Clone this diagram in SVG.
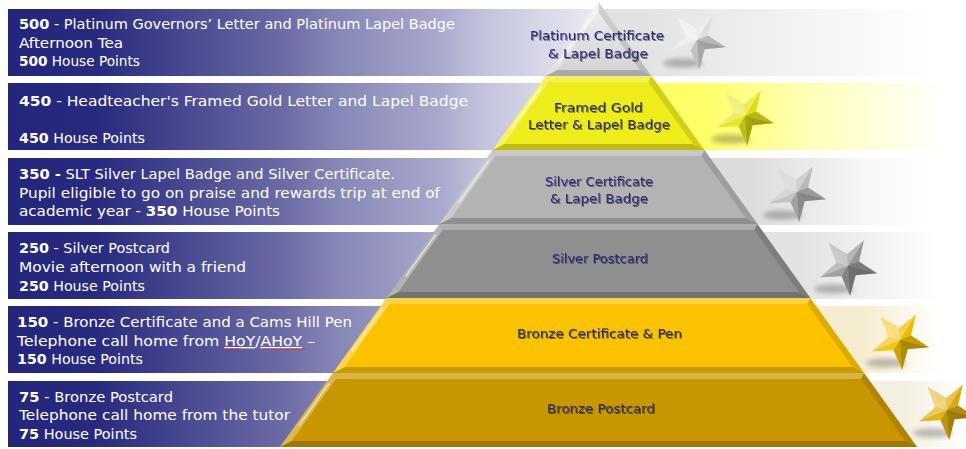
<svg xmlns="http://www.w3.org/2000/svg" xmlns:xlink="http://www.w3.org/1999/xlink" width="966" height="449" viewBox="0 0 966 449">
  <style>
    .bt { font-family: "DejaVu Sans", "Liberation Sans", sans-serif; font-size: 13.5px; fill: #ffffff; }
    .num { font-weight: bold; }
    .tl { font-family: "DejaVu Sans", "Liberation Sans", sans-serif; font-size: 12.5px; fill: #2b2a7a; text-anchor: middle; filter: url(#txtShadow); }
    .bv-top { fill: #ffffff; opacity: 0.28; }
    .bv-left { fill: #ffffff; opacity: 0.32; }
    .bv-right { fill: #000000; opacity: 0.12; }
    .bv-bot { fill: #000000; opacity: 0.2; }
    .gloss { stroke: #ffffff; stroke-opacity: 0.55; stroke-width: 1.6; stroke-linecap: round; fill: none; }
    .shadow { fill: #000000; opacity: 0.25; filter: url(#softBlur); }
  </style>
  <defs>
    <linearGradient id="blueBand" gradientUnits="userSpaceOnUse" x1="8" y1="0" x2="600" y2="0">
      <stop offset="0" stop-color="#24267c"/>
      <stop offset="0.15" stop-color="#282a7e"/>
      <stop offset="0.46" stop-color="#6a6aa4"/>
      <stop offset="0.55" stop-color="#8585b6"/>
      <stop offset="0.73" stop-color="#a9a9cd"/>
      <stop offset="0.8" stop-color="#c2c2dd"/>
      <stop offset="1" stop-color="#ececf2"/>
    </linearGradient>
    <linearGradient id="band1" gradientUnits="userSpaceOnUse" x1="640" y1="0" x2="935" y2="0">
      <stop offset="0" stop-color="#e2e2e2"/>
      <stop offset="0.5" stop-color="#f2f2f2"/>
      <stop offset="1" stop-color="#ffffff"/>
    </linearGradient>
    <linearGradient id="band2" gradientUnits="userSpaceOnUse" x1="700" y1="0" x2="945" y2="0">
      <stop offset="0" stop-color="#ffff66"/>
      <stop offset="0.5" stop-color="#ffffc0"/>
      <stop offset="1" stop-color="#ffffff"/>
    </linearGradient>
    <linearGradient id="band3" gradientUnits="userSpaceOnUse" x1="750" y1="0" x2="935" y2="0">
      <stop offset="0" stop-color="#dcdcdc"/>
      <stop offset="0.6" stop-color="#f6f6f6"/>
      <stop offset="1" stop-color="#ffffff"/>
    </linearGradient>
    <linearGradient id="band4" gradientUnits="userSpaceOnUse" x1="800" y1="0" x2="940" y2="0">
      <stop offset="0" stop-color="#e2e2e2"/>
      <stop offset="1" stop-color="#ffffff"/>
    </linearGradient>
    <linearGradient id="band5" gradientUnits="userSpaceOnUse" x1="860" y1="0" x2="940" y2="0">
      <stop offset="0" stop-color="#f6ecd0"/>
      <stop offset="1" stop-color="#ffffff"/>
    </linearGradient>
    <linearGradient id="band6" gradientUnits="userSpaceOnUse" x1="905" y1="0" x2="966" y2="0">
      <stop offset="0" stop-color="#f4efe0"/>
      <stop offset="1" stop-color="#ffffff"/>
    </linearGradient>
    <linearGradient id="platFill" x1="0" y1="0" x2="0" y2="1">
      <stop offset="0" stop-color="#f0f0f0"/>
      <stop offset="1" stop-color="#d2d2d2"/>
    </linearGradient>
    <filter id="txtShadow" x="-10%" y="-30%" width="120%" height="160%">
      <feDropShadow dx="1" dy="1" stdDeviation="0.7" flood-color="#000000" flood-opacity="0.45"/>
    </filter>
    <filter id="softBlur" x="-50%" y="-200%" width="200%" height="500%">
      <feGaussianBlur stdDeviation="2.5"/>
    </filter>
    <!-- five-point star outline, centred on 0,0 -->
    <path id="starShape" d="M15.9,-25.4 L11.1,-4.5 L29.1,7.3 L7.7,9.2 L2.1,29.9 L-6.4,10.2 L-27.8,11.2 L-11.6,-2.9 L-19.3,-23 L-0.8,-12 Z"/>
    <!-- light and dark facets that give the star its relief -->
    <g id="starFacets">
      <path d="M0,0 L15.9,-25.4 L-0.8,-12 Z" fill="#fff" fill-opacity="0.26"/>
      <path d="M0,0 L15.9,-25.4 L11.1,-4.5 Z" fill="#000" fill-opacity="0.03"/>
      <path d="M0,0 L29.1,7.3 L11.1,-4.5 Z" fill="#000" fill-opacity="0.2"/>
      <path d="M0,0 L29.1,7.3 L7.7,9.2 Z" fill="#000" fill-opacity="0.3"/>
      <path d="M0,0 L2.1,29.9 L7.7,9.2 Z" fill="#000" fill-opacity="0.28"/>
      <path d="M0,0 L2.1,29.9 L-6.4,10.2 Z" fill="#000" fill-opacity="0.16"/>
      <path d="M0,0 L-27.8,11.2 L-6.4,10.2 Z" fill="#fff" fill-opacity="0.05"/>
      <path d="M0,0 L-27.8,11.2 L-11.6,-2.9 Z" fill="#fff" fill-opacity="0.33"/>
      <path d="M0,0 L-19.3,-23 L-11.6,-2.9 Z" fill="#fff" fill-opacity="0.48"/>
      <path d="M0,0 L-19.3,-23 L-0.8,-12 Z" fill="#fff" fill-opacity="0.46"/>
    </g>
  </defs>

  <rect width="966" height="449" fill="#ffffff"/>

  <!-- Level 500: Platinum -->
  <g id="level-500">
    <rect x="598" y="9" width="342" height="67" fill="url(#band1)"/>
    <rect x="8" y="9" width="592" height="67" fill="url(#blueBand)"/>
    <text class="bt" x="19" y="29" textLength="436" lengthAdjust="spacingAndGlyphs"><tspan class="num">500</tspan> - Platinum Governors’ Letter and Platinum Lapel Badge</text>
    <text class="bt" x="19" y="47.5" textLength="104" lengthAdjust="spacingAndGlyphs">Afternoon Tea</text>
    <text class="bt" x="19" y="66" textLength="121" lengthAdjust="spacingAndGlyphs"><tspan class="num">500</tspan> House Points</text>
    <polygon points="598.5,2 651.5,76 545.5,76" fill="url(#platFill)"/>
    <polygon class="bv-right" points="598.5,2 651.5,76 639.8,70 598.5,12.3"/>
    <polygon class="bv-bot" points="651.5,76 545.5,76 557.2,70 639.8,70"/>
    <polygon class="bv-left" points="545.5,76 598.5,2 598.5,12.3 557.2,70"/>
    <line class="gloss" x1="589.3" y1="20" x2="559.2" y2="62"/>
    <text class="tl" x="597" y="40" textLength="134" lengthAdjust="spacingAndGlyphs">Platinum Certificate</text>
    <text class="tl" x="598" y="58" textLength="100" lengthAdjust="spacingAndGlyphs">&amp; Lapel Badge</text>
    <g transform="translate(697,40)">
      <ellipse class="shadow" cx="-14" cy="23" rx="20" ry="4.5"/>
      <use href="#starShape" fill="#e6e6e6"/>
      <use href="#starFacets"/>
    </g>
  </g>

  <!-- Level 450: Framed Gold -->
  <g id="level-450">
    <rect x="598" y="83" width="347" height="67" fill="url(#band2)"/>
    <rect x="8" y="83" width="592" height="67" fill="url(#blueBand)"/>
    <text class="bt" x="19" y="106" textLength="449" lengthAdjust="spacingAndGlyphs"><tspan class="num">450</tspan> - Headteacher's Framed Gold Letter and Lapel Badge</text>
    <text class="bt" x="19" y="143" textLength="126" lengthAdjust="spacingAndGlyphs"><tspan class="num">450</tspan> House Points</text>
    <polygon points="545.5,76 651.5,76 704.5,150 492.5,150" fill="#efec1c"/>
    <polygon class="bv-top" points="545.5,76 651.5,76 648.4,82 548.6,82"/>
    <polygon class="bv-right" points="651.5,76 704.5,150 692.8,144 648.4,82"/>
    <polygon class="bv-bot" points="704.5,150 492.5,150 504.2,144 692.8,144"/>
    <polygon class="bv-left" points="492.5,150 545.5,76 548.6,82 504.2,144"/>
    <line class="gloss" x1="541.3" y1="87" x2="512" y2="128"/>
    <text class="tl" x="598.5" y="112" textLength="89" lengthAdjust="spacingAndGlyphs">Framed Gold</text>
    <text class="tl" x="599" y="129" textLength="142" lengthAdjust="spacingAndGlyphs">Letter &amp; Lapel Badge</text>
    <g transform="translate(745,116)">
      <ellipse class="shadow" cx="-14" cy="23" rx="20" ry="4.5"/>
      <use href="#starShape" fill="#e8e41c"/>
      <use href="#starFacets"/>
    </g>
  </g>

  <!-- Level 350: Silver Certificate -->
  <g id="level-350">
    <rect x="598" y="158" width="337" height="67" fill="url(#band3)"/>
    <rect x="8" y="158" width="592" height="67" fill="url(#blueBand)"/>
    <text class="bt" x="19" y="179" textLength="376" lengthAdjust="spacingAndGlyphs"><tspan class="num">350 -</tspan> SLT Silver Lapel Badge and Silver Certificate.</text>
    <text class="bt" x="19" y="197.5" textLength="421" lengthAdjust="spacingAndGlyphs">Pupil eligible to go on praise and rewards trip at end of</text>
    <text class="bt" x="19" y="216" textLength="261" lengthAdjust="spacingAndGlyphs">academic year - <tspan class="num">350</tspan> House Points</text>
    <polygon points="492.5,150 704.5,150 757.5,224 439.5,224" fill="#b3b3b3"/>
    <polygon class="bv-top" points="492.5,150 704.5,150 701.4,156 495.6,156"/>
    <polygon class="bv-right" points="704.5,150 757.5,224 745.8,218 701.4,156"/>
    <polygon class="bv-bot" points="757.5,224 439.5,224 451.2,218 745.8,218"/>
    <polygon class="bv-left" points="439.5,224 492.5,150 495.6,156 451.2,218"/>
    <line class="gloss" x1="488.4" y1="161" x2="459" y2="202"/>
    <text class="tl" x="599" y="186" textLength="108" lengthAdjust="spacingAndGlyphs">Silver Certificate</text>
    <text class="tl" x="599" y="203" textLength="98" lengthAdjust="spacingAndGlyphs">&amp; Lapel Badge</text>
    <g transform="translate(797,192)">
      <ellipse class="shadow" cx="-14" cy="23" rx="20" ry="4.5"/>
      <use href="#starShape" fill="#c0c0c0"/>
      <use href="#starFacets"/>
    </g>
  </g>

  <!-- Level 250: Silver Postcard -->
  <g id="level-250">
    <rect x="598" y="232" width="342" height="67" fill="url(#band4)"/>
    <rect x="8" y="232" width="592" height="67" fill="url(#blueBand)"/>
    <text class="bt" x="19" y="253" textLength="151" lengthAdjust="spacingAndGlyphs"><tspan class="num">250</tspan> - Silver Postcard</text>
    <text class="bt" x="19" y="272" textLength="227" lengthAdjust="spacingAndGlyphs">Movie afternoon with a friend</text>
    <text class="bt" x="19" y="291" textLength="126" lengthAdjust="spacingAndGlyphs"><tspan class="num">250</tspan> House Points</text>
    <polygon points="439.5,224 757.5,224 810.4,298 386.6,298" fill="#8f8f8f"/>
    <polygon class="bv-top" points="439.5,224 757.5,224 754.4,230 442.6,230"/>
    <polygon class="bv-right" points="757.5,224 810.4,298 798.7,292 754.4,230"/>
    <polygon class="bv-bot" points="810.4,298 386.6,298 398.3,292 798.7,292"/>
    <polygon class="bv-left" points="386.6,298 439.5,224 442.6,230 398.3,292"/>
    <line class="gloss" x1="435.4" y1="235" x2="406" y2="276"/>
    <text class="tl" x="600" y="263" textLength="96" lengthAdjust="spacingAndGlyphs">Silver Postcard</text>
    <g transform="translate(848,266)">
      <ellipse class="shadow" cx="-14" cy="23" rx="20" ry="4.5"/>
      <use href="#starShape" fill="#9c9c9c"/>
      <use href="#starFacets"/>
    </g>
  </g>

  <!-- Level 150: Bronze Certificate -->
  <g id="level-150">
    <rect x="598" y="306" width="342" height="67" fill="url(#band5)"/>
    <rect x="8" y="306" width="592" height="67" fill="url(#blueBand)"/>
    <text class="bt" x="17" y="327" textLength="335" lengthAdjust="spacingAndGlyphs"><tspan class="num">150</tspan> - Bronze Certificate and a Cams Hill Pen</text>
    <text class="bt" x="17" y="346" textLength="298" lengthAdjust="spacingAndGlyphs">Telephone call home from <tspan text-decoration="underline">HoY</tspan>/<tspan text-decoration="underline">AHoY</tspan> –</text>
    <line x1="223" y1="349" x2="241" y2="349" stroke="#d03030" stroke-width="0.9"/>
    <line x1="262" y1="349" x2="305" y2="349" stroke="#d03030" stroke-width="0.9"/>
    <text class="bt" x="17" y="364" textLength="126" lengthAdjust="spacingAndGlyphs"><tspan class="num">150</tspan> House Points</text>
    <polygon points="386.6,298 810.4,298 864.1,373 332.9,373" fill="#fbc200"/>
    <polygon class="bv-top" points="386.6,298 810.4,298 807.3,304 389.7,304"/>
    <polygon class="bv-right" points="810.4,298 864.1,373 852.4,367 807.3,304"/>
    <polygon class="bv-bot" points="864.1,373 332.9,373 344.6,367 852.4,367"/>
    <polygon class="bv-left" points="332.9,373 386.6,298 389.7,304 344.6,367"/>
    <line class="gloss" x1="382.4" y1="309" x2="352.3" y2="351"/>
    <text class="tl" x="599.5" y="338" textLength="165" lengthAdjust="spacingAndGlyphs">Bronze Certificate &amp; Pen</text>
    <g transform="translate(900,340)">
      <ellipse class="shadow" cx="-14" cy="23" rx="20" ry="4.5"/>
      <use href="#starShape" fill="#f2c20a"/>
      <use href="#starFacets"/>
    </g>
  </g>

  <!-- Level 75: Bronze Postcard -->
  <g id="level-75">
    <rect x="598" y="381" width="368" height="66" fill="url(#band6)"/>
    <rect x="8" y="381" width="592" height="66" fill="url(#blueBand)"/>
    <text class="bt" x="19" y="402" textLength="154" lengthAdjust="spacingAndGlyphs"><tspan class="num">75</tspan> - Bronze Postcard</text>
    <text class="bt" x="19" y="420" textLength="271" lengthAdjust="spacingAndGlyphs">Telephone call home from the tutor</text>
    <text class="bt" x="19" y="439" textLength="118" lengthAdjust="spacingAndGlyphs"><tspan class="num">75</tspan> House Points</text>
    <polygon points="332.9,373 864.1,373 917.1,447 279.9,447" fill="#c89700"/>
    <polygon class="bv-top" points="332.9,373 864.1,373 861,379 336,379"/>
    <polygon class="bv-right" points="864.1,373 917.1,447 905.4,441 861,379"/>
    <polygon class="bv-bot" points="917.1,447 279.9,447 291.6,441 905.4,441"/>
    <polygon class="bv-left" points="279.9,447 332.9,373 336,379 291.6,441"/>
    <line class="gloss" x1="328.7" y1="384" x2="299.3" y2="425"/>
    <text class="tl" x="601" y="413" textLength="108" lengthAdjust="spacingAndGlyphs">Bronze Postcard</text>
    <g transform="translate(947,410)">
      <ellipse class="shadow" cx="-14" cy="23" rx="20" ry="4.5"/>
      <use href="#starShape" fill="#e0b012"/>
      <use href="#starFacets"/>
    </g>
  </g>
</svg>
